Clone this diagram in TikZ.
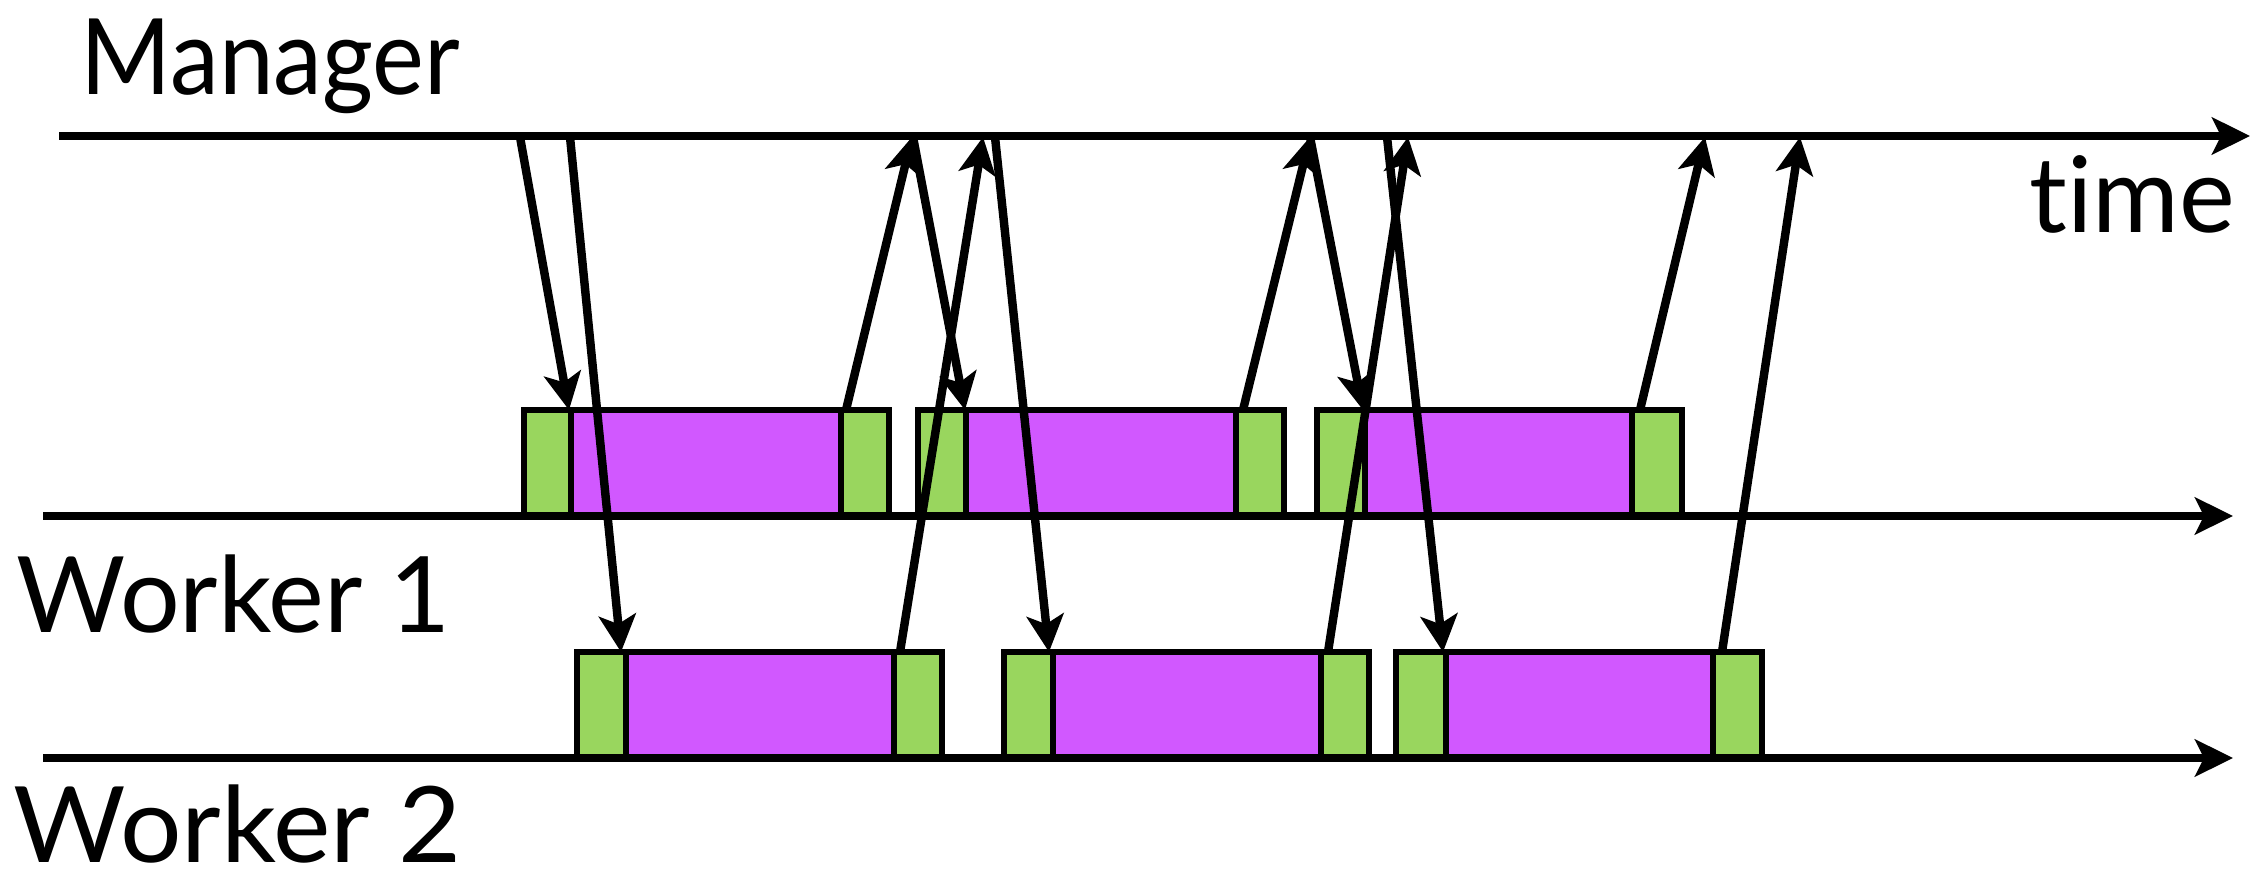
\documentclass[tikz,border=0pt]{standalone}
\usepackage{fontspec}
\setmainfont{Lato}[Ligatures={NoCommon}]
\usetikzlibrary{arrows.meta}
\definecolor{taskgreen}{RGB}{153,214,94}
\definecolor{taskpurple}{RGB}{209,88,255}
\begin{document}
\begin{tikzpicture}[x=0.01cm,y=-0.01cm,
  axisline/.style={line width=2.4pt,-{Stealth[length=0.38cm,width=0.37cm,inset=0.09cm]}},
  msg/.style={line width=2.4pt,-{Stealth[length=0.37cm,width=0.37cm,inset=0.09cm]}},
  taskborder/.style={line width=1.6pt},
  lbl/.style={font=\fontsize{30}{36}\selectfont,inner sep=0pt}]
\useasboundingbox (0,0) rectangle (2261,880);

% task boxes: left / setup end / work end / right / top / bottom
\foreach \a/\b/\c/\d/\t/\u in {
  524/571/841/889/410/516, 918/966/1236/1284/410/516, 1317/1365/1632/1682/410/516,
  577/626/894/942/652/758, 1004/1053/1321/1369/652/758, 1396/1446/1713/1762/652/758}{
  \fill[taskgreen] (\a,\t) rectangle (\b,\u);
  \fill[taskpurple] (\b,\t) rectangle (\c,\u);
  \fill[taskgreen] (\c,\t) rectangle (\d,\u);
  \draw[taskborder] (\a,\t) rectangle (\d,\u) (\b,\t) -- (\b,\u) (\c,\t) -- (\c,\u);
}

% axes
\coordinate (mgrS) at (59,136);  \coordinate (mgrE) at (2250,136);
\coordinate (wkaS) at (43,516);  \coordinate (wkaE) at (2233,516);
\coordinate (wkbS) at (43,758);  \coordinate (wkbE) at (2233,758);
\draw[axisline] (mgrS) -- (mgrE);
\draw[axisline] (wkaS) -- (wkaE);
\draw[axisline] (wkbS) -- (wkbE);

% labels
\node[lbl,anchor=base west] (manager) at (80,95) {\scalebox{0.93}[1]{Manager}};
\node[lbl,anchor=base west] (worker1) at (16,633) {Worker 1};
\node[lbl,anchor=base west] (worker2) at (13,863) {\scalebox{1.03}[1]{Worker 2}};
\node[lbl,anchor=base east] (time) at (2236,233) {time};

% message endpoints
\coordinate (a0) at (520,137);  \coordinate (a1) at (569,410);
\coordinate (b0) at (570,137);  \coordinate (b1) at (621,652);
\coordinate (c0) at (846,410);  \coordinate (c1) at (912,137);
\coordinate (d0) at (913,137);  \coordinate (d1) at (965,410);
\coordinate (e0) at (900,652);  \coordinate (e1) at (983,137);
\coordinate (f0) at (995,137);  \coordinate (f1) at (1049,652);
\coordinate (g0) at (1243,410); \coordinate (g1) at (1310,137);
\coordinate (h0) at (1310,137); \coordinate (h1) at (1363,410);
\coordinate (i0) at (1328,652); \coordinate (i1) at (1408,137);
\coordinate (j0) at (1387,137); \coordinate (j1) at (1443,652);
\coordinate (k0) at (1640,410); \coordinate (k1) at (1705,137);
\coordinate (l0) at (1722,652); \coordinate (l1) at (1800,137);

\foreach \m in {a,b,c,d,e,f,g,h,i,j,k,l}{
  \draw[msg] (\m0) -- (\m1);
}
\end{tikzpicture}
\end{document}
